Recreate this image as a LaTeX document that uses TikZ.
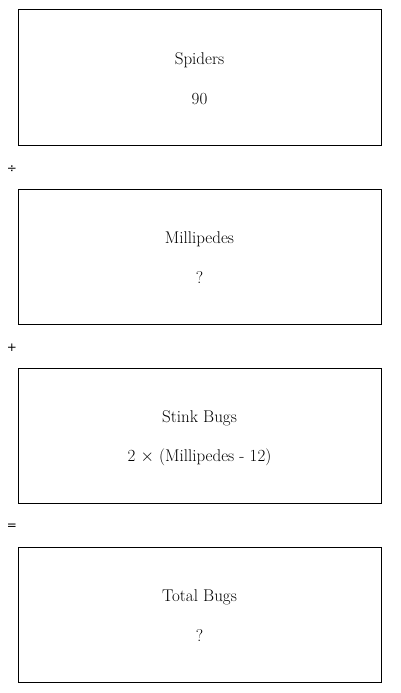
\documentclass[tikz,border=0pt]{standalone}
\usepackage{fontspec}
\newfontfamily\opfont{DejaVu Sans}
\begin{document}
\begin{tikzpicture}[x=1pt,y=-1pt,
  box/.style={draw,line width=1pt,minimum width=363pt,minimum height=135pt,inner sep=0pt},
  lbl/.style={font=\fontsize{17}{20}\selectfont,inner sep=0pt},
  op/.style={font=\opfont\fontsize{12}{14}\selectfont,inner sep=0pt}]
\useasboundingbox (0,0) rectangle (400,693);
\node[box] (b1) at (199.5,77.5) {};
\node[lbl] (t1) at (199.5,60) {Spiders};
\node[lbl] (v1) at (199.5,99) {90};
\node[op] (o1) at (12,169) {÷};
\node[box] (b2) at (199.5,256.5) {};
\node[lbl] (t2) at (199.5,239) {Millipedes};
\node[lbl] (v2) at (199.5,278) {?};
\node[op] (o2) at (12,348) {+};
\node[box] (b3) at (199.5,435.5) {};
\node[lbl] (t3) at (199.5,418) {Stink Bugs};
\node[lbl] (v3) at (199.5,457) {2 $\times$ (Millipedes - 12)};
\node[op] (o3) at (12,527) {=};
\node[box] (b4) at (199.5,614.5) {};
\node[lbl] (t4) at (199.5,597) {Total Bugs};
\node[lbl] (v4) at (199.5,636) {?};
\end{tikzpicture}
\end{document}
